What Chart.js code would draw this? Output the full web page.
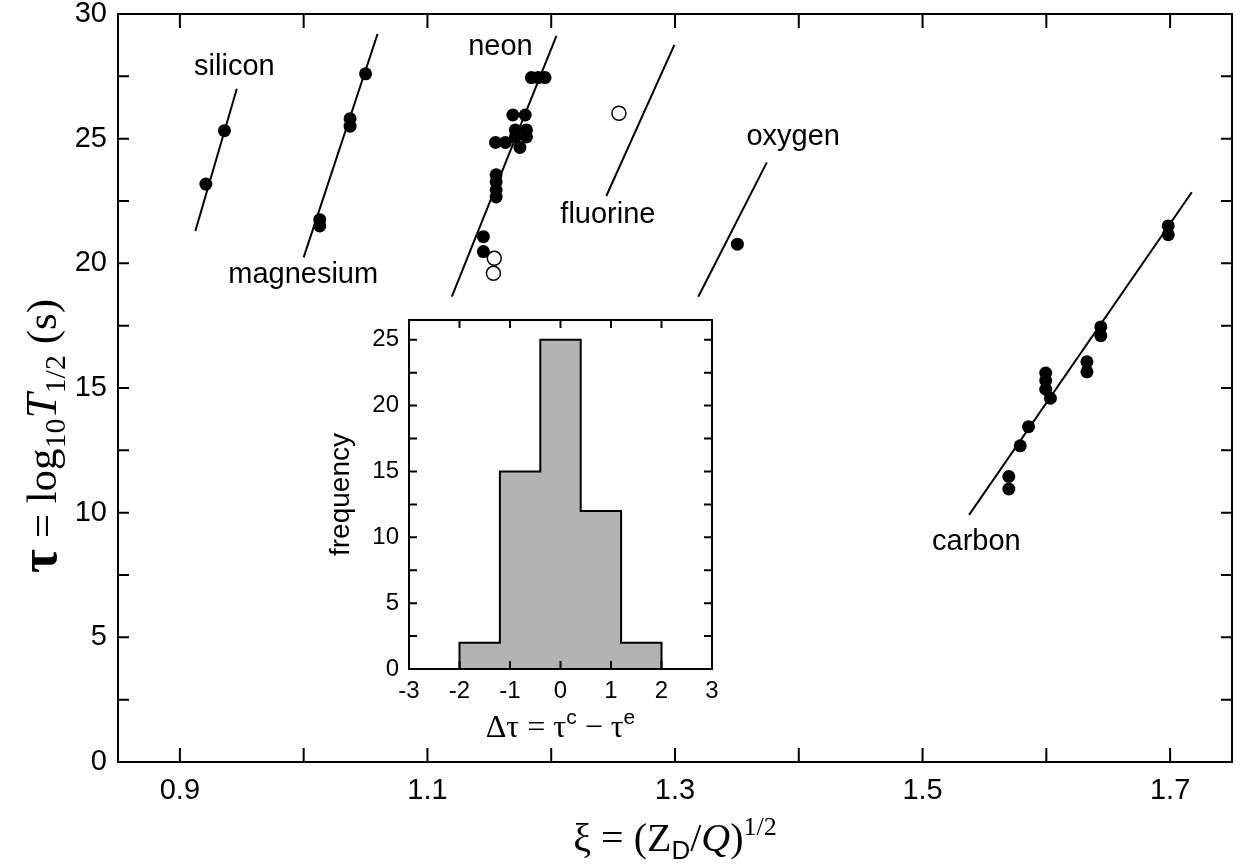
<!DOCTYPE html>
<html>
<head>
<meta charset="utf-8">
<script src="https://cdn.jsdelivr.net/npm/chart.js@4.4.1/dist/chart.umd.min.js"></script>
<style>
  html, body { margin: 0; padding: 0; background: #fff; }
  #wrap { position: relative; width: 1244px; height: 865px; }
  #mainChart { position: absolute; left: 0; top: 0; }
  #histChart { position: absolute; left: 320px; top: 300px; }
</style>
</head>
<body>
<div id="wrap">
  <canvas id="mainChart" width="1244" height="865"></canvas>
  <canvas id="histChart" width="420" height="450"></canvas>
</div>
<script>
// ---------- data: main panel (xi, tau) ----------
const siliconPts   = [[0.921, 23.18], [0.936, 25.32]];
const magnesiumPts = [[1.013, 21.5], [1.013, 21.75], [1.0375, 25.5], [1.0375, 25.8], [1.050, 27.6]];
const neonPts = [
  [1.184, 27.45], [1.1895, 27.45], [1.195, 27.45],
  [1.169, 25.95], [1.179, 25.95],
  [1.171, 25.35], [1.180, 25.35], [1.171, 25.07], [1.180, 25.07],
  [1.155, 24.85], [1.163, 24.85], [1.1747, 24.65],
  [1.1555, 23.55], [1.1555, 23.27], [1.1555, 22.95], [1.1555, 22.66],
  [1.1452, 21.07], [1.1452, 20.47]
];
const neonOpen     = [[1.154, 20.2], [1.1533, 19.6]];
const fluorineOpen = [[1.2547, 26.02]];
const oxygenPts    = [[1.3504, 20.77]];
const carbonPts = [
  [1.6985, 21.5], [1.6985, 21.15], [1.644, 17.45], [1.644, 17.1],
  [1.6328, 16.05], [1.6328, 15.65], [1.5995, 15.6], [1.5995, 15.3], [1.5995, 14.95],
  [1.6033, 14.59], [1.5856, 13.45], [1.5789, 12.68], [1.5697, 11.45], [1.5697, 10.95]
];

// fitted lines (end points)
const siliconFit   = [[0.9125, 21.3], [0.946, 27.0]];
const magnesiumFit = [[1.000, 20.24], [1.0597, 29.2]];
const neonFit      = [[1.1197, 18.66], [1.2042, 29.12]];
const fluorineFit  = [[1.2445, 22.7], [1.2995, 28.76]];
const oxygenFit    = [[1.3188, 18.66], [1.3742, 24.05]];
const carbonFit    = [[1.5376, 9.91], [1.7175, 22.85]];

// element names and where they sit (data coords)
const elementNames = ['silicon', 'magnesium', 'neon', 'fluorine', 'oxygen', 'carbon'];
const nameX = [0.944, 0.9996, 1.159, 1.2458, 1.3955, 1.5435];
const nameY = [27.88, 19.53, 28.68, 21.94, 25.07, 8.82];

const xTicks = [0.9, 1.0, 1.1, 1.2, 1.3, 1.4, 1.5, 1.6, 1.7];
const xTickLabels = ['0.9', '', '1.1', '', '1.3', '', '1.5', '', '1.7'];
const yTicks = [0, 2.5, 5, 7.5, 10, 12.5, 15, 17.5, 20, 22.5, 25, 27.5, 30];
const yTickLabels = ['0', '', '5', '', '10', '', '15', '', '20', '', '25', '', '30'];

// ---------- data: inset histogram ----------
const binEdges = [-2, -1.2, -0.4, 0.4, 1.2, 2];
const binCounts = [2, 15, 25, 12, 2];
const hxTicks = [-3, -2, -1, 0, 1, 2, 3];
const hxTickLabels = ['-3', '-2', '-1', '0', '1', '2', '3'];
const hyTicks = [0, 2.5, 5, 7.5, 10, 12.5, 15, 17.5, 20, 22.5, 25];
const hyTickLabels = ['0', '', '5', '', '10', '', '15', '', '20', '', '25'];

Chart.defaults.font.family = "'Liberation Sans', Arial, sans-serif";
Chart.defaults.color = '#000';

const toXY = pts => pts.map(([x, y]) => ({ x, y }));
const SERIF = "'Liberation Serif', 'Times New Roman', serif";
const SANS = "'Liberation Sans', Arial, sans-serif";

// text made of several runs with their own font / vertical shift, centred on x
function drawRuns(ctx, runs, x, y) {
  let w = 0;
  runs.forEach(r => { ctx.font = r.font; r.w = ctx.measureText(r.text).width; w += r.w; });
  let cx = x - w / 2;
  ctx.textAlign = 'left';
  ctx.textBaseline = 'alphabetic';
  runs.forEach(r => {
    ctx.font = r.font;
    ctx.fillText(r.text, cx, y + (r.dy || 0));
    cx += r.w;
  });
}

// inward ticks on all four sides + frame
const boxTicks = {
  id: 'boxTicks',
  afterDraw(chart, args, opts) {
    const { ctx, chartArea: a, scales: { x, y } } = chart;
    ctx.save();
    ctx.strokeStyle = '#000';
    ctx.lineWidth = opts.lineWidth;
    ctx.beginPath();
    x.ticks.forEach(t => {
      const px = x.getPixelForValue(t.value);
      ctx.moveTo(px, a.bottom); ctx.lineTo(px, a.bottom - opts.xLen);
      ctx.moveTo(px, a.top); ctx.lineTo(px, a.top + opts.xLen);
    });
    y.ticks.forEach(t => {
      const py = y.getPixelForValue(t.value);
      ctx.moveTo(a.left, py); ctx.lineTo(a.left + opts.yLen, py);
      ctx.moveTo(a.right, py); ctx.lineTo(a.right - opts.yLen, py);
    });
    ctx.stroke();
    ctx.strokeRect(a.left, a.top, a.right - a.left, a.bottom - a.top);
    ctx.restore();
  }
};

const mainText = {
  id: 'mainText',
  afterDraw(chart) {
    const { ctx, chartArea: a, scales: { x, y } } = chart;
    ctx.save();
    ctx.fillStyle = '#000';
    ctx.font = '29px ' + SANS;
    ctx.textAlign = 'center';
    ctx.textBaseline = 'middle';
    elementNames.forEach((n, i) => {
      ctx.fillText(n, x.getPixelForValue(nameX[i]), y.getPixelForValue(nameY[i]));
    });
    // x title
    drawRuns(ctx, [
      { text: 'ξ = (Z', font: '40px ' + SERIF },
      { text: 'D', font: '26px ' + SANS, dy: 8 },
      { text: '/', font: '40px ' + SERIF },
      { text: 'Q', font: 'italic 40px ' + SERIF },
      { text: ')', font: '40px ' + SERIF },
      { text: '1/2', font: '26px ' + SERIF, dy: -16 }
    ], (a.left + a.right) / 2, 851);
    // y title
    ctx.translate(56, 436);
    ctx.rotate(-Math.PI / 2);
    drawRuns(ctx, [
      { text: 'τ', font: 'bold 52px ' + SERIF },
      { text: ' = log', font: '43px ' + SERIF },
      { text: '10', font: '30px ' + SERIF, dy: 9 },
      { text: 'T', font: 'italic 45px ' + SERIF },
      { text: '1/2', font: '30px ' + SERIF, dy: 9 },
      { text: ' (s)', font: '43px ' + SERIF }
    ], 0, 0);
    ctx.restore();
  }
};

const fitStyle = { showLine: true, borderColor: '#000', borderWidth: 2, pointRadius: 0, fill: false };

new Chart(document.getElementById('mainChart'), {
  type: 'scatter',
  data: {
    datasets: [
      { data: toXY([...siliconPts, ...magnesiumPts, ...neonPts, ...oxygenPts, ...carbonPts]),
        backgroundColor: '#000', borderColor: '#000', borderWidth: 0, pointRadius: 6.5 },
      { data: toXY([...neonOpen, ...fluorineOpen]),
        backgroundColor: '#fff', borderColor: '#000', borderWidth: 1.5, pointRadius: 7 },
      { data: toXY(siliconFit), ...fitStyle },
      { data: toXY(magnesiumFit), ...fitStyle },
      { data: toXY(neonFit), ...fitStyle },
      { data: toXY(fluorineFit), ...fitStyle },
      { data: toXY(oxygenFit), ...fitStyle },
      { data: toXY(carbonFit), ...fitStyle }
    ]
  },
  options: {
    responsive: false,
    animation: false,
    layout: { padding: { left: 0, top: 14, right: 12, bottom: 0 } },
    plugins: {
      legend: { display: false },
      tooltip: { enabled: false },
      boxTicks: { xLen: 14, yLen: 11, lineWidth: 2 }
    },
    scales: {
      x: {
        type: 'linear', min: 0.85, max: 1.75,
        grid: { display: false, drawTicks: false },
        border: { display: false },
        afterBuildTicks: s => { s.ticks = xTicks.map(v => ({ value: v })); },
        ticks: { callback: (v, i) => xTickLabels[i], autoSkip: false, maxRotation: 0,
                 font: { size: 29 }, color: '#000', padding: 12 },
        afterFit: s => { s.height = 103; s.paddingLeft = 0; s.paddingRight = 0; }
      },
      y: {
        type: 'linear', min: 0, max: 30,
        grid: { display: false, drawTicks: false },
        border: { display: false },
        afterBuildTicks: s => { s.ticks = yTicks.map(v => ({ value: v })); },
        ticks: { callback: (v, i) => yTickLabels[i], autoSkip: false,
                 font: { size: 29 }, color: '#000', padding: 11 },
        afterFit: s => { s.width = 118; s.paddingTop = 0; s.paddingBottom = 0; }
      }
    }
  },
  plugins: [boxTicks, mainText]
});

// ---------- inset histogram ----------
const binCenters = binCounts.map((c, i) => (binEdges[i] + binEdges[i + 1]) / 2);
// step outline: up at the first edge, across each bin, down at the last edge
const outline = [{ x: binEdges[0], y: 0 }]
  .concat(binCounts.map((c, i) => ({ x: binEdges[i], y: c })))
  .concat([{ x: binEdges[binEdges.length - 1], y: 0 }]);

const histText = {
  id: 'histText',
  afterDraw(chart) {
    const { ctx, chartArea: a } = chart;
    ctx.save();
    ctx.fillStyle = '#000';
    drawRuns(ctx, [
      { text: 'Δτ = τ', font: '32px ' + SERIF },
      { text: 'c', font: '21px ' + SANS, dy: -13 },
      { text: ' − τ', font: '32px ' + SERIF },
      { text: 'e', font: '21px ' + SANS, dy: -13 }
    ], (a.left + a.right) / 2, 437);
    ctx.restore();
  }
};

new Chart(document.getElementById('histChart'), {
  data: {
    datasets: [
      { type: 'line', data: outline, stepped: 'before', borderColor: '#000', borderWidth: 2,
        pointRadius: 0, fill: false },
      { type: 'bar', data: binCenters.map((c, i) => ({ x: c, y: binCounts[i] })),
        backgroundColor: '#b3b3b3', borderWidth: 0, barPercentage: 1, categoryPercentage: 1 }
    ]
  },
  options: {
    responsive: false,
    animation: false,
    layout: { padding: { left: 0, top: 20, right: 28, bottom: 0 } },
    plugins: {
      legend: { display: false },
      tooltip: { enabled: false },
      boxTicks: { xLen: 8, yLen: 8, lineWidth: 2 }
    },
    scales: {
      x: {
        type: 'linear', min: -3, max: 3, offset: false,
        grid: { display: false, drawTicks: false },
        border: { display: false },
        afterBuildTicks: s => { s.ticks = hxTicks.map(v => ({ value: v })); },
        ticks: { callback: (v, i) => hxTickLabels[i], autoSkip: false, maxRotation: 0,
                 font: { size: 24 }, color: '#000', padding: 8 },
        afterFit: s => { s.height = 81; s.paddingLeft = 0; s.paddingRight = 0; }
      },
      y: {
        type: 'linear', min: 0, max: 26.5,
        grid: { display: false, drawTicks: false },
        border: { display: false },
        afterBuildTicks: s => { s.ticks = hyTicks.map(v => ({ value: v })); },
        ticks: { callback: (v, i) => hyTickLabels[i], autoSkip: false,
                 font: { size: 24 }, color: '#000', padding: 10 },
        title: { display: true, text: 'frequency', font: { size: 28 }, color: '#000',
                 padding: { top: 4, bottom: 0 } },
        afterFit: s => { s.width = 89; s.paddingTop = 0; s.paddingBottom = 0; }
      }
    }
  },
  plugins: [boxTicks, histText]
});
</script>
</body>
</html>
